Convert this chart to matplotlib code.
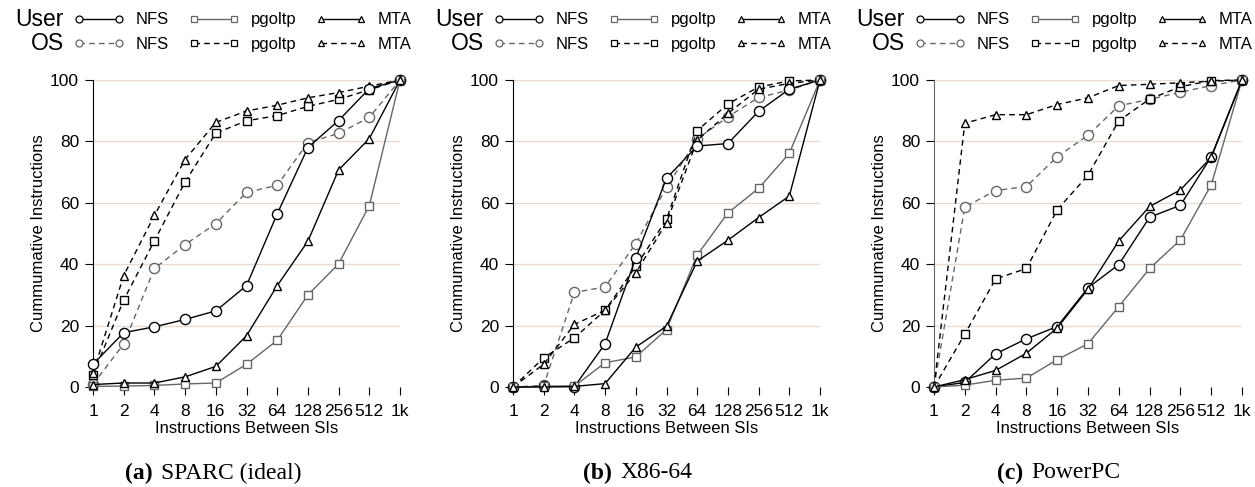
import matplotlib
matplotlib.use("Agg")
import matplotlib.pyplot as plt
from matplotlib.lines import Line2D
import numpy as np

plt.rcParams["font.family"] = ["Liberation Sans", "DejaVu Sans"]

xlabels = ["1", "2", "4", "8", "16", "32", "64", "128", "256", "512", "1k"]

# panel (a) SPARC (ideal)
a_user_nfs = [7.4, 17.7, 19.6, 22.0, 24.8, 33.0, 56.4, 78.0, 86.8, 97.2, 100]
a_user_pg = [0.2, 0.3, 0.5, 1.0, 1.3, 7.4, 15.2, 30.0, 40.1, 59.1, 100]
a_user_mta = [0.8, 1.3, 1.3, 3.3, 6.7, 16.7, 33.0, 47.5, 70.7, 80.9, 100]
a_os_nfs = [0.9, 14.0, 38.6, 46.4, 53.2, 63.4, 65.7, 79.6, 82.6, 87.8, 100]
a_os_pg = [4.0, 28.3, 47.6, 66.8, 82.7, 86.7, 88.4, 91.4, 93.7, 96.8, 100]
a_os_mta = [4.5, 36.3, 55.9, 74.1, 86.2, 89.9, 91.8, 94.2, 95.9, 98.0, 100]

# panel (b) X86-64
b_user_nfs = [0.0, 0.2, 0.1, 14.1, 42.0, 68.0, 78.5, 79.3, 89.8, 97.0, 100]
b_user_pg = [0.0, 0.2, 0.3, 7.9, 9.8, 18.7, 43.0, 56.7, 64.7, 76.1, 100]
b_user_mta = [0.0, 0.0, 0.2, 1.1, 13.0, 19.8, 41.0, 47.8, 55.2, 62.2, 100]
b_os_nfs = [0.0, 0.5, 30.8, 32.6, 46.7, 65.0, 80.8, 88.0, 94.3, 96.7, 100]
b_os_pg = [0.0, 9.5, 16.0, 25.0, 39.3, 54.6, 83.5, 92.2, 97.7, 99.7, 100]
b_os_mta = [0.0, 7.4, 20.4, 25.0, 37.2, 53.5, 80.4, 89.1, 97.0, 98.9, 100]

# panel (c) PowerPC
c_user_nfs = [0.0, 1.5, 10.8, 15.7, 19.7, 32.3, 39.9, 55.3, 59.2, 75.0, 100]
c_user_pg = [0.0, 0.6, 2.2, 2.9, 8.9, 14.1, 26.2, 38.6, 47.9, 65.8, 100]
c_user_mta = [0.0, 2.4, 5.4, 11.0, 19.2, 31.9, 47.6, 58.8, 64.2, 74.8, 100]
c_os_nfs = [0.0, 58.6, 64.0, 65.3, 75.0, 82.0, 91.6, 93.7, 96.0, 98.2, 100]
c_os_pg = [0.0, 17.2, 35.2, 38.6, 57.7, 69.0, 86.7, 93.8, 97.8, 99.8, 100]
c_os_mta = [0.0, 85.9, 88.7, 88.7, 92.0, 94.2, 98.2, 98.6, 99.1, 99.6, 100]

captions = ["SPARC (ideal)", "X86-64", "PowerPC"]
letters = ["(a)", "(b)", "(c)"]
series_names = ["NFS", "NFS", "pgoltp", "pgoltp", "MTA", "MTA"]

panels = [
    [a_user_nfs, a_user_pg, a_user_mta, a_os_nfs, a_os_pg, a_os_mta],
    [b_user_nfs, b_user_pg, b_user_mta, b_os_nfs, b_os_pg, b_os_mta],
    [c_user_nfs, c_user_pg, c_user_mta, c_os_nfs, c_os_pg, c_os_mta],
]

gray = "#666666"
dash = (0, (4, 3))
# (color, marker, linestyle) for user nfs, pg, mta, os nfs, pg, mta
styles = [
    ("black", "o", "-"),
    (gray, "s", "-"),
    ("black", "^", "-"),
    (gray, "o", dash),
    ("black", "s", dash),
    ("black", "^", dash),
]
msizes = {"o": 7.3, "s": 5.3, "^": 6.0}
lsizes = {"o": 5.0, "s": 3.8, "^": 4.5}

fig = plt.figure(figsize=(12.55, 4.87), dpi=100)
W, H = 1255, 487
lefts = [93, 513, 934]
rights = [400, 820, 1242]
cap_split = [157, 616, 1027]
top_px, bot_px = 80, 387

x = np.arange(len(xlabels))
for k in range(3):
    ax = fig.add_axes([lefts[k] / W, 1 - bot_px / H,
                       (rights[k] - lefts[k]) / W, (bot_px - top_px) / H])
    for yv in [20, 40, 60, 80, 100]:
        ax.axhline(yv, color="#eadbd0", lw=1.0, zorder=0)
    # OS lines first, user lines on top
    for i in [3, 4, 5, 0, 1, 2]:
        c, m, ls = styles[i]
        ax.plot(x, panels[k][i], color=c, linestyle=ls, lw=1.0, marker=m,
                markersize=msizes[m], markerfacecolor="white",
                markeredgecolor=c, markeredgewidth=1.0, clip_on=False,
                zorder=3)
    ax.set_xlim(0, 10)
    ax.set_ylim(0, 100)
    ax.set_xticks(x)
    ax.set_xticklabels(xlabels)
    ax.set_yticks([0, 20, 40, 60, 80, 100])
    for s in ["top", "right", "bottom"]:
        ax.spines[s].set_visible(False)
    ax.spines["left"].set_color("black" if k < 2 else gray)
    ax.tick_params(axis="both", labelsize=12.5, length=5.5, width=0.8, pad=4.5)
    ax.tick_params(axis="x", pad=6.5)
    ax.set_xlabel("Instructions Between SIs", fontsize=12, labelpad=2)
    ax.set_ylabel("Cummumative Instructions", fontsize=12, labelpad=3)

    handles = []
    for i in [0, 3, 1, 4, 2, 5]:
        c, m, ls = styles[i]
        handles.append(Line2D([], [], color=c, linestyle=ls, lw=1.0, marker=m,
                              markersize=lsizes[m], markeredgewidth=0.9,
                              markerfacecolor="white", markeredgecolor=c))
    off = lefts[k] - 93
    fig.legend(handles, series_names, ncol=3, frameon=False, numpoints=2,
               fontsize=12, handlelength=3.0, handletextpad=0.7,
               columnspacing=1.2, labelspacing=0.55, borderpad=0,
               loc="center left",
               bbox_to_anchor=((off + 66) / W, 1 - 32 / H))
    fig.text((off + 64) / W, 1 - 20 / H, "User", fontsize=16.5,
             ha="right", va="center")
    fig.text((off + 64) / W, 1 - 44 / H, "OS", fontsize=16.5,
             ha="right", va="center")

    fig.text((cap_split[k] - 4) / W, 1 - 473 / H, letters[k], fontsize=17,
             family="Liberation Serif", weight="bold", ha="right",
             va="center")
    fig.text((cap_split[k] + 4) / W, 1 - 473 / H, captions[k], fontsize=17,
             family="Liberation Serif", ha="left", va="center")

fig.savefig("out.png", dpi=100)
